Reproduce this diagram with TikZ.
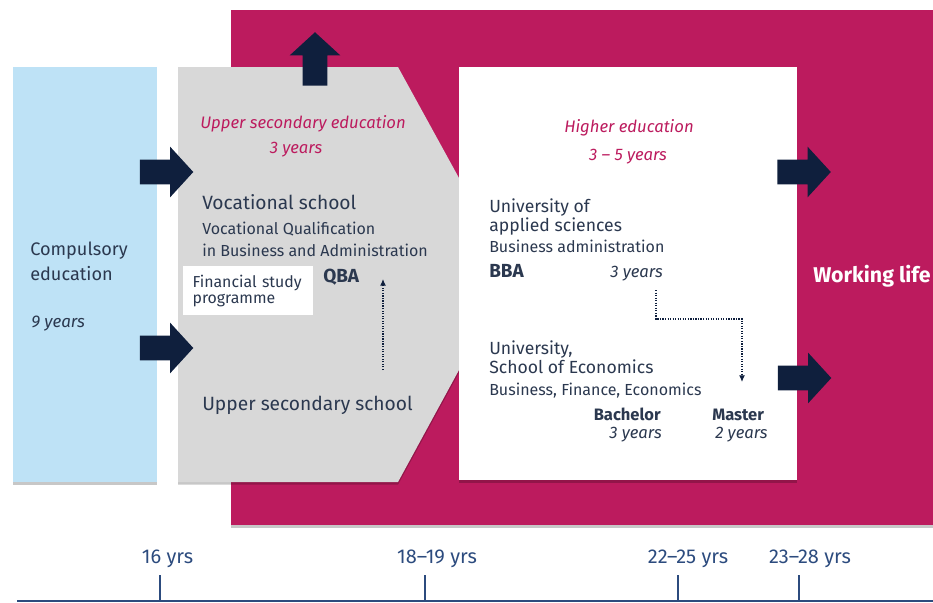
\documentclass[tikz,border=0pt]{standalone}
\usepackage{fontspec}
\setmainfont{Fira Sans}
\usetikzlibrary{positioning,shapes.arrows,arrows.meta}

\definecolor{brand}{HTML}{BC1B5E}
\definecolor{navy}{HTML}{0F1F3D}
\definecolor{skyblue}{HTML}{BEE2F6}
\definecolor{panelgray}{HTML}{D8D8D8}
\definecolor{ink}{HTML}{2B384F}
\definecolor{axisblue}{HTML}{2C4B7E}

\begin{document}
\begin{tikzpicture}[
x=0.75pt, y=-0.75pt,
every node/.style={inner sep=0pt, text=ink},
panel/.style={preaction={fill=black, opacity=0.22, transform canvas={yshift=-2pt}}},
bigarrow/.style={single arrow, fill=navy, inner xsep=0pt, inner ysep=9pt, single arrow head extend=9.75pt, single arrow tip angle=95, minimum height=40pt},
stage/.style={font=\fontsize{12.5}{14}\selectfont\itshape, text=brand},
school/.style={font=\fontsize{14.4}{16}\selectfont},
uni/.style={font=\fontsize{13.2}{13.8}\selectfont, align=left},
detail/.style={font=\fontsize{12}{16.5}\selectfont, align=left},
degree/.style={font=\fontsize{12.4}{14}\selectfont\bfseries},
span/.style={font=\fontsize{12.5}{14}\selectfont\itshape},
route/.style={densely dotted, line width=0.9pt, draw=navy, -{Latex[length=5pt,width=4.5pt]}},
timeline/.style={draw=axisblue, line width=1.5pt},
yrs/.style={font=\fontsize{15}{16}\selectfont, text=axisblue, anchor=base},
]
\useasboundingbox (0,0) rectangle (933,603);

% Working life (background)
\fill[brand, panel] (231,10) rectangle (933,525);

% Compulsory education
\fill[skyblue, panel] (13,67) rectangle (157,482);

% Upper secondary education
\fill[panelgray, panel] (178,67) -- (398,67) -- (459,178) -- (459,370) -- (398,482) -- (178,482) -- cycle;

% Higher education
\fill[white, panel] (459,67) rectangle (797,480);

% Block arrows
\node[bigarrow] (toUS1) at (161,172) {};
\node[bigarrow] (toUS2) at (161,348) {};
\node[bigarrow, rotate=90] (toWork0) at (315,64.5) {};
\node[bigarrow] (toWork1) at (798.5,172) {};
\node[bigarrow] (toWork2) at (799,378) {};

% Compulsory education texts
\node[anchor=north west, font=\fontsize{13.6}{18.75}\selectfont, align=left] (comp) at (30,242) {Compulsory\\education};
\node[span, font=\fontsize{12.7}{14}\selectfont\itshape, anchor=base west] (compyrs) at (31,327) {9 years};

% Upper secondary texts
\node[stage, anchor=base] (usedu) at (303,128) {Upper secondary education};
\node[stage, anchor=base] (usyrs) at (296,153) {3 years};
\node[school, anchor=base west] (voc) at (202,209) {Vocational school};
\node[detail, anchor=north west] (vqba) at (202,222) {Vocational Qualification\\in Business and Administration};
\node[fill=white, anchor=north west, inner xsep=7pt, text width=83.5pt, minimum height=36.75pt, align=left, font=\fontsize{11.9}{12.2}\selectfont] (fin) at (183,266) {Financial study\\programme};
\node[degree, font=\fontsize{14.2}{15}\selectfont\bfseries, anchor=base west] (qba) at (323,282) {QBA};
\node[school, anchor=base west] (uss) at (202,410) {Upper secondary school};

\coordinate (ussup) at (383,370);
\coordinate (qbain) at (383,279);
\draw[route] (ussup) -- (qbain);

% Higher education texts
\node[stage, anchor=base] (hedu) at (629,132) {Higher education};
\node[stage, anchor=base] (heyrs) at (628,160) {3 – 5 years};
\node[uni, anchor=north west] (uas) at (489,199) {University of\\applied sciences};
\node[detail, anchor=base west] (ba) at (489,252) {Business administration};
\node[degree, font=\fontsize{14.2}{15}\selectfont\bfseries, anchor=base west] (bba) at (489,277) {BBA};
\node[span, anchor=base east] (bbayrs) at (663,277) {3 years};
\node[uni, anchor=north west] (soe) at (489,341) {University,\\School of Economics};
\node[detail, anchor=base west] (bfe) at (489,395) {Business, Finance, Economics};
\node[degree, anchor=base east] (bach) at (661,420) {Bachelor};
\node[span, anchor=base east] (bachyrs) at (662,438) {3 years};
\node[degree, anchor=base west] (mast) at (712,420) {Master};
\node[span, anchor=base west] (mastyrs) at (715,438) {2 years};

\coordinate (uasout) at (656,290);
\coordinate (soein) at (742,382);
\draw[route] (uasout) -- ++(0,29) -| (soein);

\node[font=\fontsize{16}{17}\selectfont\bfseries, text=white, anchor=base west] (work) at (813,282) {Working life};

% Age timeline
\coordinate (axisL) at (17,601);
\coordinate (axisR) at (933,601);
\draw[timeline] (axisL) -- (axisR);
\foreach \n/\xpos/\lx/\age in {a/160/167.5/16 yrs, b/425/437/18–19 yrs, c/678/688/22–25 yrs, d/799/810/23–28 yrs}{
  \coordinate (tick\n) at (\xpos,601);
  \coordinate (top\n) at (\xpos,575);
  \draw[timeline] (tick\n) -- (top\n);
  \node[yrs] (age\n) at (\lx,563) {\age};
}
\end{tikzpicture}
\end{document}
